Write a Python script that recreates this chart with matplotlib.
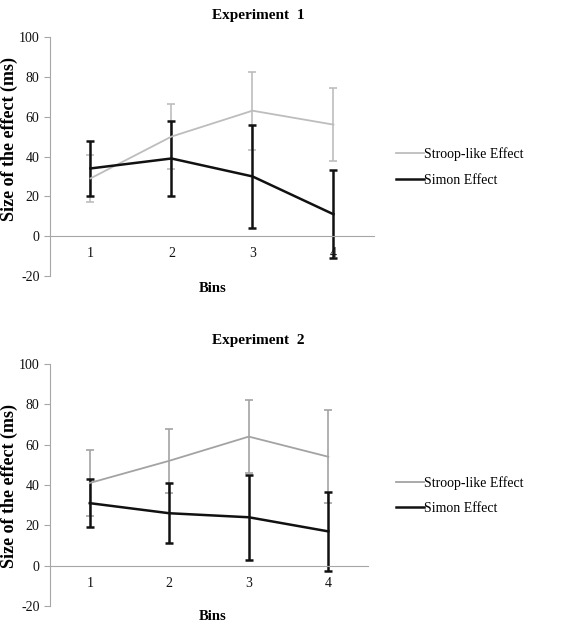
import matplotlib

matplotlib.use("Agg")

import matplotlib.pyplot as plt
from matplotlib.lines import Line2D

plt.rcParams["font.family"] = ["Liberation Serif", "DejaVu Serif"]
plt.rcParams["axes.unicode_minus"] = False

bins = [1, 2, 3, 4]
y_ticks = [-20, 0, 20, 40, 60, 80, 100]

# Experiment 1
exp1_stroop = [29, 50, 63, 56]
exp1_stroop_err = [12, 16.5, 19.5, 18.5]
exp1_simon = [34, 39, 30, 11]
exp1_simon_err = [14, 19, 26, 22]

# Experiment 2
exp2_stroop = [41, 52, 64, 54]
exp2_stroop_err = [16.5, 16, 18, 23]
exp2_simon = [31, 26, 24, 17]
exp2_simon_err = [12, 15, 21, 19.5]

AXIS_GREY = "#a6a6a6"
SIMON_COLOR = "#111111"


def draw_panel(fig, rect, title, title_y, bins_y, label_y, legend_y,
               stroop, stroop_err, simon, simon_err, stroop_color):
    ax = fig.add_axes(rect)
    ax.errorbar(bins, stroop, yerr=stroop_err, color=stroop_color,
                linewidth=1.3, elinewidth=1.2, capsize=3, capthick=1.2)
    ax.errorbar(bins, simon, yerr=simon_err, color=SIMON_COLOR,
                linewidth=1.8, elinewidth=1.8, capsize=3, capthick=1.8)

    ax.set_xlim(0.5, 4.5)
    ax.set_ylim(-20, 100)
    ax.set_xticks(bins)
    ax.set_yticks(y_ticks)
    ax.spines["top"].set_visible(False)
    ax.spines["right"].set_visible(False)
    ax.spines["left"].set_color(AXIS_GREY)
    ax.spines["bottom"].set_color(AXIS_GREY)
    ax.spines["bottom"].set_position(("data", 0))
    ax.tick_params(axis="y", colors=AXIS_GREY, labelcolor="#111111",
                   length=4, labelsize=10)
    ax.tick_params(axis="x", length=0, labelsize=10, pad=8,
                   labelcolor="#111111")

    fig.text(0.456, title_y, title, ha="center", va="center",
             fontsize=11, fontweight="bold")
    fig.text(0.376, bins_y, "Bins", ha="center", va="center",
             fontsize=10.5, fontweight="bold")
    fig.text(0.016, label_y, "Size of the effect (ms)", ha="center",
             va="center", rotation=90, fontsize=13, fontweight="bold")

    handles = [
        Line2D([], [], color=stroop_color, linewidth=1.3),
        Line2D([], [], color=SIMON_COLOR, linewidth=1.8),
    ]
    ax.legend(handles, ["Stroop-like Effect", "Simon Effect"],
              loc="center left", bbox_to_anchor=(0.687, legend_y),
              bbox_transform=fig.transFigure, frameon=False, fontsize=10,
              handlelength=2.0, handletextpad=0.05, labelspacing=0.9,
              borderpad=0)
    return ax


fig = plt.figure(figsize=(5.66, 6.25), dpi=100)

draw_panel(fig, [0.0883, 0.5584, 0.5724, 0.3824], "Experiment  1",
           0.975, 0.539, 0.778, 0.733,
           exp1_stroop, exp1_stroop_err, exp1_simon, exp1_simon_err,
           "#bdbdbd")
draw_panel(fig, [0.0883, 0.0304, 0.562, 0.3872], "Experiment  2",
           0.455, 0.013, 0.222, 0.207,
           exp2_stroop, exp2_stroop_err, exp2_simon, exp2_simon_err,
           "#a3a3a3")

fig.savefig("out.png", dpi=100)
plt.close(fig)
